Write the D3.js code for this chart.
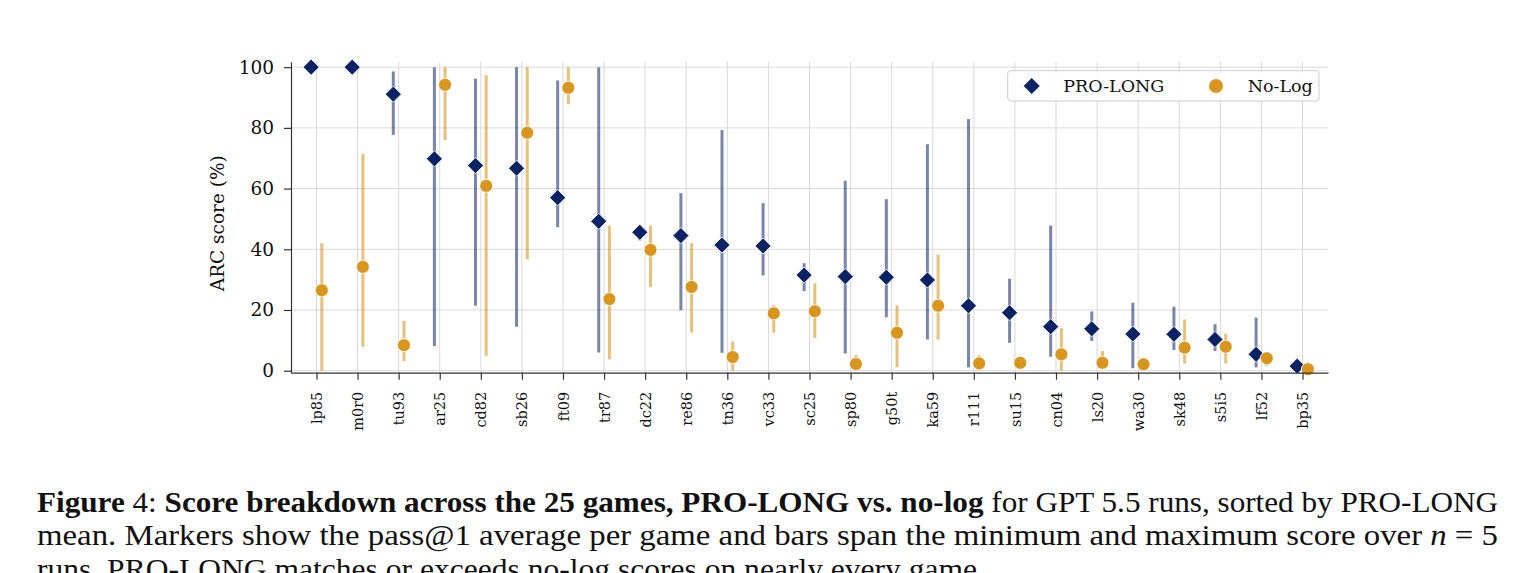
<!DOCTYPE html>
<html>
<head>
<meta charset="utf-8">
<script src="https://cdn.jsdelivr.net/npm/d3@7"></script>
<style>
    body { margin: 0; background: #fff; }
    svg { display: block; }
    .axis text { font-family: "DejaVu Serif", serif; fill: #111; }
    .axis path.domain, .axis line { stroke: #333; stroke-width: 1.2; }
    .grid line { stroke: #d9d9d9; stroke-width: 1; }
    .caption { font-family: "Liberation Serif", "DejaVu Serif", serif; fill: #111; }
</style>
</head>
<body>
<div id="chart"></div>
<script>
const games = ["lp85", "m0r0", "tu93", "ar25", "cd82", "sb26", "ft09", "tr87", "dc22", "re86",
    "tn36", "vc33", "sc25", "sp80", "g50t", "ka59", "r111", "su15", "cn04", "ls20",
    "wa30", "sk48", "s5i5", "lf52", "bp35"];

// PRO-LONG: mean, min, max over 5 runs
const proMean = [100, 100, 91.1, 69.8, 67.6, 66.7, 57.0, 49.2, 45.6, 44.5,
    41.4, 41.1, 31.5, 31.0, 30.8, 29.9, 21.4, 19.1, 14.5, 13.8,
    12.1, 12.0, 10.3, 5.4, 1.5];
const proMin = [100, 100, 77.7, 8.1, 21.4, 14.5, 47.3, 6.0, 42.9, 19.9,
    5.9, 31.4, 26.2, 5.7, 17.6, 10.3, 1.1, 9.2, 4.6, 9.8,
    0.8, 6.8, 6.5, 1.1, 0];
const proMax = [100, 100, 98.6, 100, 96.2, 100, 95.6, 100, 46.0, 58.5,
    79.3, 55.2, 35.4, 62.6, 56.5, 74.6, 82.9, 30.3, 47.8, 19.5,
    22.4, 21.1, 15.3, 17.5, 2.5];

// No-Log: mean, min, max over 5 runs
const noMean = [26.5, 34.2, 8.4, 94.2, 60.9, 78.4, 93.2, 23.6, 39.8, 27.6,
    4.5, 18.9, 19.6, 2.2, 12.5, 21.4, 2.4, 2.6, 5.4, 2.6,
    2.1, 7.6, 7.9, 4.1, 0.5];
const noMin = [0, 7.9, 3.2, 76.0, 4.9, 36.7, 87.8, 3.7, 27.5, 12.5,
    0, 12.5, 10.8, 0, 1.1, 10.3, 0, 1.5, 0, 0.5,
    1.0, 2.4, 2.4, 1.5, 0];
const noMax = [42.0, 71.5, 16.4, 100, 97.3, 100, 100, 47.8, 47.8, 42.0,
    9.6, 21.6, 28.8, 5.1, 21.5, 38.2, 5.1, 3.5, 14.0, 6.5,
    3.0, 16.9, 12.1, 5.2, 1.0];

const yTicks = [0, 20, 40, 60, 80, 100];
const seriesNames = ["PRO-LONG", "No-Log"];

const captionLines = [
    [["Figure", "bold"], [" 4: ", "normal"], ["Score breakdown across the 25 games, PRO-LONG vs. no-log", "bold"],
        [" for GPT 5.5 runs, sorted by PRO-LONG", "normal"]],
    [["mean. Markers show the pass@1 average per game and bars span the minimum and maximum score over ", "normal"],
        ["n", "italic"], [" = 5", "normal"]],
    [["runs. PRO-LONG matches or exceeds no-log scores on nearly every game.", "normal"]]
];

class dotRangeChart {
    constructor(item) {
        this.id = item.id;
        this.width = item.width;
        this.height = item.height;
        this.navy = "#0b2265";
        this.gold = "#d8961f";

        this.init();
        this.createSVG();
        this.add_axis();
        this.build_chart();
        this.add_legend();
        this.add_caption();
    }

    init() {
        this.plot_box = {l: 291, r: 1328, t: 61.7, b: 372.7};

        this.scale_x = d3
            .scaleLinear()
            .domain([-0.62, games.length - 1 + 0.62])
            .range([this.plot_box.l, this.plot_box.r]);

        this.scale_y = d3
            .scaleLinear()
            .domain([-0.66, 101.8])
            .range([this.plot_box.b, this.plot_box.t]);

        this.offset = 0.13; // marker dodge, in category units

        this.rows = games.map((g, i) => ({
            i: i,
            game: g,
            pro: {mean: proMean[i], min: proMin[i], max: proMax[i]},
            no: {mean: noMean[i], min: noMin[i], max: noMax[i]}
        }));
    }

    createSVG() {
        this.svg = d3.select(`#${this.id}`)
            .append("svg")
            .attr("width", this.width)
            .attr("height", this.height);

        this.grid = this.svg.append("g").attr("class", "grid");
        this.chart = this.svg.append("g").attr("class", "chart");
        this.axis_x = this.svg.append("g").attr("class", "axis axis-x")
            .attr("transform", `translate(0, ${this.plot_box.b})`);
        this.axis_y = this.svg.append("g").attr("class", "axis axis-y")
            .attr("transform", `translate(${this.plot_box.l}, 0)`);
        this.legend = this.svg.append("g").attr("class", "legend");
        this.caption = this.svg.append("g").attr("class", "caption");
    }

    add_axis() {
        const box = this.plot_box;

        // grid
        this.grid.selectAll(".gx")
            .data(d3.range(games.length))
            .join("line")
            .attr("class", "gx")
            .attr("x1", d => this.scale_x(d)).attr("x2", d => this.scale_x(d))
            .attr("y1", box.t).attr("y2", box.b);

        this.grid.selectAll(".gy")
            .data(yTicks)
            .join("line")
            .attr("class", "gy")
            .attr("x1", box.l).attr("x2", box.r)
            .attr("y1", d => this.scale_y(d)).attr("y2", d => this.scale_y(d));

        const axis_x = d3
            .axisBottom(this.scale_x)
            .tickValues(d3.range(games.length))
            .tickFormat(i => games[i])
            .tickSize(7)
            .tickSizeOuter(0);

        const axis_y = d3
            .axisLeft(this.scale_y)
            .tickValues(yTicks)
            .tickSize(7)
            .tickSizeOuter(0)
            .tickPadding(10);

        this.axis_x.call(axis_x);
        this.axis_y.call(axis_y);

        this.axis_x.selectAll("text")
            .attr("font-size", 14.5)
            .attr("transform", "rotate(-90)")
            .attr("text-anchor", "end")
            .attr("x", -19)
            .attr("y", 0)
            .attr("dy", "0.35em");

        this.axis_y.selectAll("text").attr("font-size", 18.5);

        this.svg.append("text")
            .attr("class", "axis-title")
            .attr("transform", `translate(224, ${(box.t + box.b) / 2 + 6}) rotate(-90)`)
            .attr("text-anchor", "middle")
            .attr("font-family", "DejaVu Serif, serif")
            .attr("font-size", 18.5)
            .attr("fill", "#111")
            .text("ARC score (%)");
    }

    build_chart() {
        const dodge = this.offset;

        // PRO-LONG range bars
        this.chart.selectAll(".pro-bar")
            .data(this.rows)
            .join("line")
            .attr("class", "pro-bar")
            .attr("x1", d => this.scale_x(d.i - dodge))
            .attr("x2", d => this.scale_x(d.i - dodge))
            .attr("y1", d => this.scale_y(d.pro.min))
            .attr("y2", d => this.scale_y(d.pro.max))
            .attr("stroke", this.navy)
            .attr("stroke-opacity", 0.55)
            .attr("stroke-width", 3);

        // No-Log range bars
        this.chart.selectAll(".no-bar")
            .data(this.rows)
            .join("line")
            .attr("class", "no-bar")
            .attr("x1", d => this.scale_x(d.i + dodge))
            .attr("x2", d => this.scale_x(d.i + dodge))
            .attr("y1", d => this.scale_y(d.no.min))
            .attr("y2", d => this.scale_y(d.no.max))
            .attr("stroke", this.gold)
            .attr("stroke-opacity", 0.6)
            .attr("stroke-width", 3);

        const diamond = d3.symbol().type(d3.symbolSquare).size(130);

        this.chart.selectAll(".pro-dot")
            .data(this.rows)
            .join("path")
            .attr("class", "pro-dot")
            .attr("d", diamond)
            .attr("transform", d => `translate(${this.scale_x(d.i - dodge)}, ${this.scale_y(d.pro.mean)}) rotate(45)`)
            .attr("fill", this.navy)
            .attr("stroke", "#fff")
            .attr("stroke-width", 0.8);

        this.chart.selectAll(".no-dot")
            .data(this.rows)
            .join("circle")
            .attr("class", "no-dot")
            .attr("cx", d => this.scale_x(d.i + dodge))
            .attr("cy", d => this.scale_y(d.no.mean))
            .attr("r", 6.5)
            .attr("fill", this.gold)
            .attr("stroke", "#fff")
            .attr("stroke-width", 0.8);
    }

    add_legend() {
        const lg = this.legend.attr("transform", "translate(1007.7, 70.7)");

        lg.append("rect")
            .attr("width", 311.3)
            .attr("height", 30.3)
            .attr("rx", 3)
            .attr("fill", "#fff")
            .attr("fill-opacity", 0.85)
            .attr("stroke", "#cccccc")
            .attr("stroke-width", 1);

        lg.append("path")
            .attr("d", d3.symbol().type(d3.symbolSquare).size(130))
            .attr("transform", "translate(24, 15.3) rotate(45)")
            .attr("fill", this.navy);

        lg.append("circle")
            .attr("cx", 208.3).attr("cy", 15.3).attr("r", 7)
            .attr("fill", this.gold);

        lg.selectAll(".lg-label")
            .data(seriesNames)
            .join("text")
            .attr("class", "lg-label")
            .attr("x", (d, i) => i === 0 ? 55.5 : 240)
            .attr("y", 21.5)
            .attr("font-family", "DejaVu Serif, serif")
            .attr("font-size", 17.5)
            .attr("fill", "#111")
            .text(d => d);
    }

    add_caption() {
        const baselines = [511.5, 545, 579];
        const lengths = [1461, 1461, 948];

        this.caption.selectAll("text")
            .data(captionLines)
            .join("text")
            .attr("x", 37)
            .attr("y", (d, i) => baselines[i])
            .attr("font-size", 29.5)
            .attr("textLength", (d, i) => lengths[i])
            .attr("lengthAdjust", "spacingAndGlyphs")
            .selectAll("tspan")
            .data(d => d)
            .join("tspan")
            .attr("font-weight", d => d[1] === "bold" ? "bold" : "normal")
            .attr("font-style", d => d[1] === "italic" ? "italic" : "normal")
            .text(d => d[0]);
    }
}

new dotRangeChart({id: "chart", width: 1534, height: 573});
</script>
</body>
</html>
